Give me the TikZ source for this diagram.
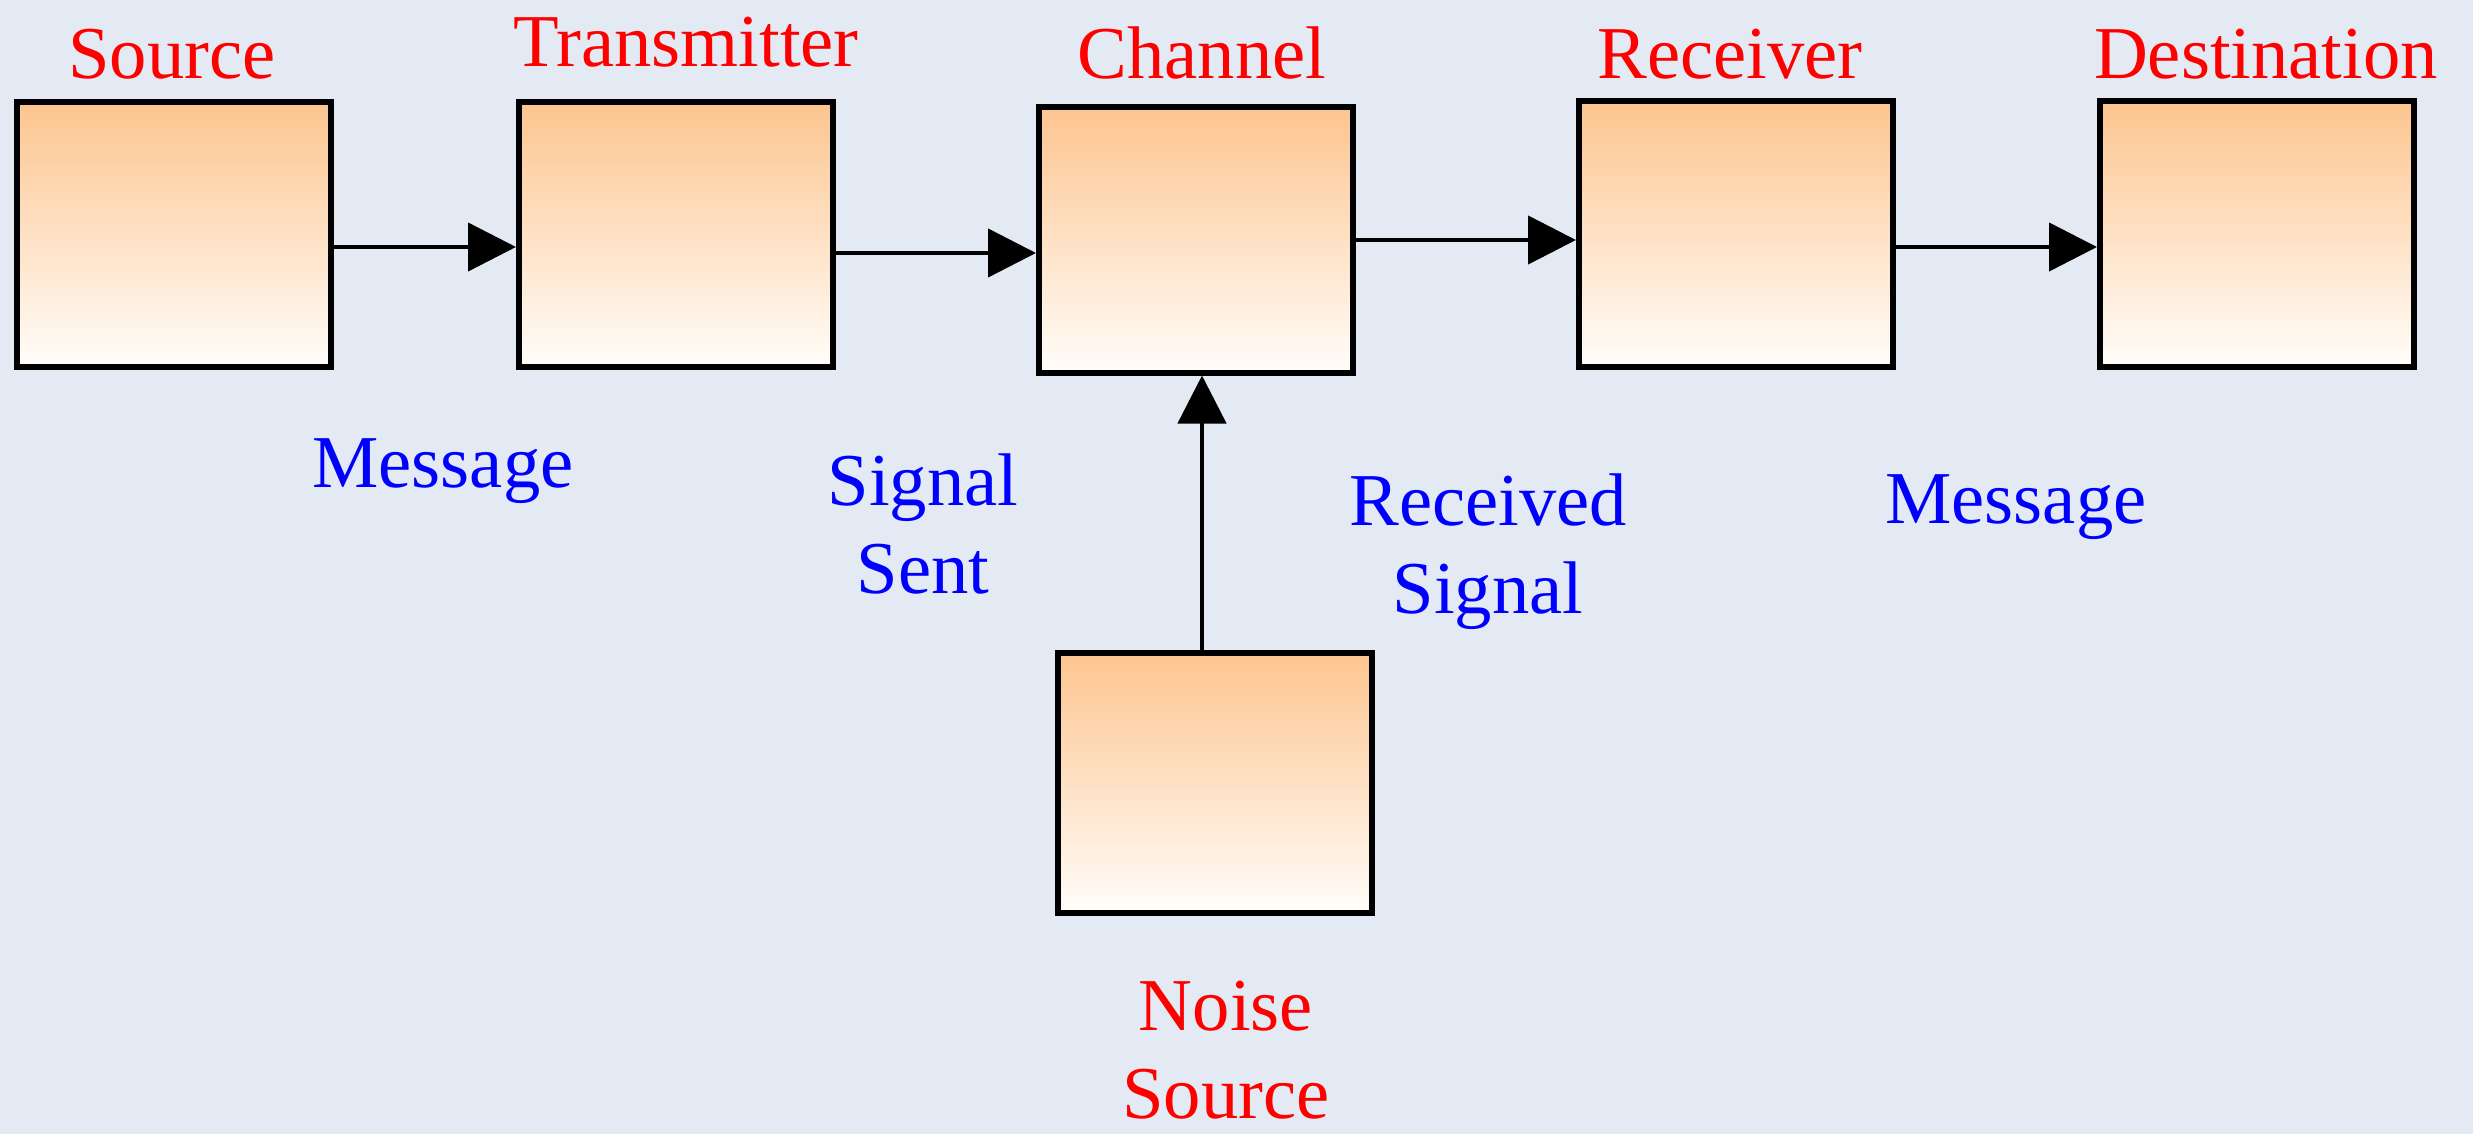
\documentclass[tikz,border=0pt]{standalone}
\usepackage{fontspec}
\setmainfont{Liberation Serif}
\usetikzlibrary{arrows.meta}
\definecolor{bgcol}{RGB}{228,234,244}
\definecolor{boxtop}{RGB}{253,197,143}
\definecolor{boxmid}{RGB}{254,220,185}
\definecolor{boxbot}{RGB}{255,253,250}
\definecolor{lblred}{RGB}{255,0,0}
\definecolor{lblblue}{RGB}{0,0,255}
\begin{document}
\begin{tikzpicture}[x=0.25pt,y=-0.25pt,
  blk/.style={draw=black,line width=1.5pt,top color=boxtop,middle color=boxmid,bottom color=boxbot,
    minimum width=78.5pt,minimum height=66.25pt,inner sep=0pt},
  conn/.style={line width=1.1pt,-{Triangle[length=12pt,width=12pt]}},
  lbl/.style={font=\fontsize{18.65}{22}\selectfont,inner sep=0pt,anchor=base},
  redlbl/.style={lbl,text=lblred},
  bluelbl/.style={lbl,text=lblblue}]
\fill[bgcol] (0,0) rectangle (2473,1134);
\useasboundingbox (0,0) rectangle (2473,1134);
% boxes
\node[blk] (src) at (173.5,234.5) {};
\node[blk] (trans) at (676,234.5) {};
\node[blk] (chan) at (1196,240) {};
\node[blk] (recv) at (1736,234) {};
\node[blk] (dest) at (2257,234) {};
\node[blk,minimum height=65pt] (noise) at (1215,783) {};
% red labels
\node[redlbl] (lsrc) at (172,79) {Source};
\node[redlbl] (ltrans) at (686,67) {Transmitter};
\node[redlbl] (lchan) at (1202,79) {Channel};
\node[redlbl] (lrecv) at (1730,79) {Receiver};
\node[redlbl] (ldest) at (2266,79) {Destination};
\node[redlbl] (lnoise) at (1226,1030) {\begin{tabular}[t]{@{}c@{}}Noise\\Source\end{tabular}};
% blue labels
\node[bluelbl] (lmsg1) at (443,487) {Message};
\node[bluelbl] (lsig) at (923,505) {\begin{tabular}[t]{@{}c@{}}Signal\\Sent\end{tabular}};
\node[bluelbl] (lrec) at (1488,525) {\begin{tabular}[t]{@{}c@{}}Received\\Signal\end{tabular}};
\node[bluelbl] (lmsg2) at (2016,523) {Message};
% connectors
\draw[conn] (src.east |- 0,247) -- (trans.west |- 0,247);
\draw[conn] (trans.east |- 0,253) -- (chan.west |- 0,253);
\draw[conn] (chan.east |- 0,240) -- (recv.west |- 0,240);
\draw[conn] (recv.east |- 0,247) -- (dest.west |- 0,247);
\draw[conn] (noise.north -| 1202,0) -- (chan.south -| 1202,0);
\end{tikzpicture}
\end{document}
